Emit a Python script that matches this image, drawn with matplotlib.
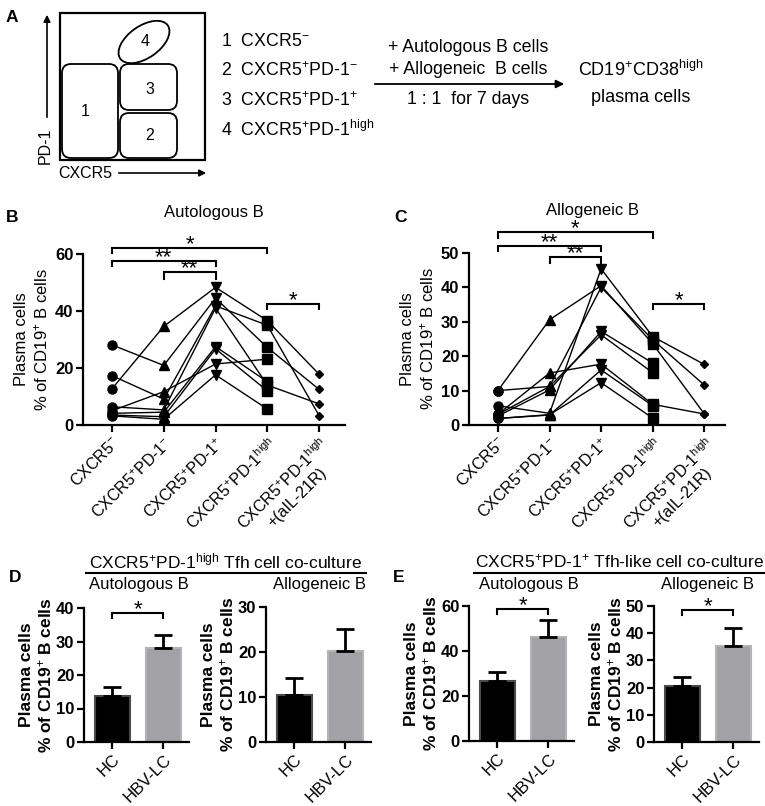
import numpy as np
import matplotlib
matplotlib.use('Agg')
import matplotlib.pyplot as plt
from matplotlib.patches import FancyBboxPatch, Ellipse, Rectangle

plt.rcParams['font.family'] = ['Liberation Sans', 'DejaVu Sans']
plt.rcParams['mathtext.fontset'] = 'custom'
plt.rcParams['mathtext.rm'] = 'Liberation Sans'
plt.rcParams['mathtext.it'] = 'Liberation Sans:italic'
plt.rcParams['mathtext.bf'] = 'Liberation Sans:bold'

W, H = 765, 806

# ---- data ----
groups = [r'CXCR5$^{-}$',
          r'CXCR5$^{+}$PD-1$^{-}$',
          r'CXCR5$^{+}$PD-1$^{+}$',
          r'CXCR5$^{+}$PD-1$^{\mathrm{high}}$',
          'CXCR5$^{+}$PD-1$^{\\mathrm{high}}$\n+(aIL-21R)']
group_markers = ['o', '^', 'v', 's', 'D']

nan = np.nan
# one row per donor, one column per group (% plasma cells of CD19+ B cells)
auto_b = np.array([
    [12.7, 34.6, 48.3, 36.6, 17.8],
    [28.1, 20.9, 44.5, 27.2, 12.5],
    [17.3, 9.1, 41.8, 35.0, 3.3],
    [5.0, 11.7, 21.4, 23.1, nan],
    [6.4, 5.3, 41.0, 14.0, 7.4],
    [4.1, 4.5, 27.5, 15.2, nan],
    [3.5, 2.9, 26.7, 12.0, nan],
    [3.2, 2.0, 17.6, 5.6, nan],
])
allo_b = np.array([
    [10.0, 30.6, 40.5, 23.6, 3.2],
    [10.0, 11.2, 26.2, 15.2, nan],
    [5.6, 3.4, 45.4, 25.7, 17.6],
    [3.1, 15.1, 17.7, 6.0, 3.2],
    [3.1, 11.2, 40.0, 24.8, 11.6],
    [2.6, 10.2, 27.2, 18.0, nan],
    [1.9, 2.9, 16.0, 5.6, nan],
    [1.9, 3.0, 12.3, 2.0, nan],
])
# brackets: (from group, to group, bar level, tick bottom, label)
auto_sig = [(0, 3, 62.1, 60.4, '*'), (0, 2, 57.5, 55.8, '**'),
            (1, 2, 53.7, 51.2, '**'), (3, 4, 42.5, 40.7, '*')]
allo_sig = [(0, 3, 56.1, 54.4, '*'), (0, 2, 52.0, 50.6, '**'),
            (1, 2, 48.8, 47.1, '**'), (3, 4, 35.2, 33.7, '*')]

bar_groups = ['HC', 'HBV-LC']
d_auto_mean = [13.7, 28.1]
d_auto_sem = [2.7, 3.8]
d_allo_mean = [10.4, 20.2]
d_allo_sem = [3.8, 4.9]
e_auto_mean = [26.7, 46.2]
e_auto_sem = [4.0, 7.6]
e_allo_mean = [20.6, 35.3]
e_allo_sem = [3.3, 6.6]


def rect(l, t, r, b):
    return [l / W, 1 - b / H, (r - l) / W, (b - t) / H]


def style_axes(ax, ymax, step):
    for s in ['top', 'right']:
        ax.spines[s].set_visible(False)
    for s in ['left', 'bottom']:
        ax.spines[s].set_linewidth(1.6)
    ax.spines['left'].set_bounds(0, ymax)
    ax.set_ylim(0, ymax)
    ax.set_yticks(np.arange(0, ymax + 0.1, step))
    ax.tick_params(axis='both', direction='out', length=5, width=1.6, pad=2)
    for lab in ax.get_yticklabels():
        lab.set_fontweight('bold')
        lab.set_fontsize(12)


def bracket(ax, x1, x2, y, ybot, label, fs=16):
    ax.plot([x1, x1, x2, x2], [ybot, y, y, ybot], color='k', lw=1.5,
            clip_on=False, solid_joinstyle='miter')
    ax.annotate(label, xy=((x1 + x2) / 2, y), xytext=(0, -5),
                textcoords='offset points', ha='center', va='bottom',
                fontsize=fs, annotation_clip=False)


fig = plt.figure(figsize=(W / 100, H / 100), dpi=100)

# ---- overlay for panel A, letters and headers ----
ax0 = fig.add_axes([0, 0, 1, 1])
ax0.set_xlim(0, W)
ax0.set_ylim(H, 0)
ax0.axis('off')

ax0.add_patch(Rectangle((60, 13), 145, 147, fill=False, lw=1.6, ec='k'))
for (x, y, w, h) in [(62, 64, 56, 94), (120, 64, 57, 46), (120, 113, 57, 45)]:
    ax0.add_patch(FancyBboxPatch((x, y), w, h, boxstyle='round,pad=0,rounding_size=9',
                                 fill=False, lw=1.3, ec='k'))
ax0.add_patch(Ellipse((144, 42), 58, 32, angle=-35, fill=False, lw=1.3, ec='k'))
for t, x, y in [('1', 85, 112), ('3', 150, 89), ('2', 150, 136), ('4', 145, 41)]:
    ax0.text(x, y, t, ha='center', va='center', fontsize=11.5)

ax0.annotate('', xy=(47, 12), xytext=(47, 120),
             arrowprops=dict(arrowstyle='-|>', lw=1.2, color='k', mutation_scale=10))
ax0.text(45, 146, 'PD-1', rotation=90, ha='center', va='center', fontsize=11.5)
ax0.annotate('', xy=(209, 173), xytext=(116, 173),
             arrowprops=dict(arrowstyle='-|>', lw=1.2, color='k', mutation_scale=10))
ax0.text(85, 173, 'CXCR5', ha='center', va='center', fontsize=11.5)

gate_list = [r'1  CXCR5$^{-}$', r'2  CXCR5$^{+}$PD-1$^{-}$',
             r'3  CXCR5$^{+}$PD-1$^{+}$', r'4  CXCR5$^{+}$PD-1$^{\mathrm{high}}$']
for t, y in zip(gate_list, [42, 71, 101, 130]):
    ax0.text(221, y, t, ha='left', va='center', fontsize=12.8)

ax0.annotate('', xy=(567, 84), xytext=(372, 84),
             arrowprops=dict(arrowstyle='-|>', lw=1.3, color='k', mutation_scale=12))
ax0.text(468, 47, '+ Autologous B cells', ha='center', va='center', fontsize=12.8)
ax0.text(468, 69, '+ Allogeneic  B cells', ha='center', va='center', fontsize=12.8)
ax0.text(468, 99, '1 : 1  for 7 days', ha='center', va='center', fontsize=12.8)
ax0.text(641, 70, r'CD19$^{+}$CD38$^{\mathrm{high}}$', ha='center', va='center', fontsize=13)
ax0.text(641, 97, 'plasma cells', ha='center', va='center', fontsize=13)

for t, x, y in [('A', 12, 17), ('B', 12, 217), ('C', 401, 217), ('D', 15, 577), ('E', 399, 577)]:
    ax0.text(x, y, t, ha='center', va='center', fontsize=12.5, fontweight='bold')

ax0.text(214, 212, 'Autologous B', ha='center', va='center', fontsize=12)
ax0.text(593, 210, 'Allogeneic B', ha='center', va='center', fontsize=12)

# headers of D and E
ax0.text(225, 561, r'CXCR5$^{+}$PD-1$^{\mathrm{high}}$ Tfh cell co-culture',
         ha='center', va='center', fontsize=12.5)
ax0.plot([86, 366], [573, 573], color='k', lw=1.5)
ax0.text(89, 585, 'Autologous B', ha='left', va='center', fontsize=12)
ax0.text(366, 585, 'Allogeneic B', ha='right', va='center', fontsize=12)

ax0.text(619, 561, r'CXCR5$^{+}$PD-1$^{+}$ Tfh-like cell co-culture',
         ha='center', va='center', fontsize=12.5)
ax0.plot([474, 764], [573, 573], color='k', lw=1.5)
ax0.text(479, 585, 'Autologous B', ha='left', va='center', fontsize=12)
ax0.text(754, 585, 'Allogeneic B', ha='right', va='center', fontsize=12)

# ---- panels B and C ----
ylab = 'Plasma cells\n% of CD19$^{+}$ B cells'
for data, sig, box, ymax, step, xmax in [
        (auto_b, auto_sig, (83, 254, 345, 425), 60, 20, 4.5),
        (allo_b, allo_sig, (469, 253, 725, 425), 50, 10, 4.4)]:
    ax = fig.add_axes(rect(*box))
    xs = np.arange(len(groups))
    for row in data:
        ok = ~np.isnan(row)
        ax.plot(xs[ok], row[ok], color='k', lw=1.0, zorder=2)
    for j, m in enumerate(group_markers):
        col = data[:, j]
        col = col[~np.isnan(col)]
        ms = 6.5 if m != 'D' else 4.5
        ax.plot(np.full(len(col), j), col, ls='none', marker=m, ms=ms,
                color='k', zorder=3, clip_on=False)
    style_axes(ax, ymax, step)
    ax.set_xlim(-0.56, xmax)
    ax.set_xticks(xs)
    ax.set_xticklabels(groups, rotation=45, ha='right', rotation_mode='anchor',
                       fontsize=11.5, multialignment='center')
    ax.set_ylabel(ylab, fontsize=12, labelpad=3, linespacing=1.25)
    for x1, x2, y, yb, lab in sig:
        bracket(ax, x1, x2, y, yb, lab)

# ---- panels D and E ----
bar_colors = ['black', '#a2a2a6']
bar_edges = ['#4a4a4a', '#b4b4b6']
bar_panels = [
    (d_auto_mean, d_auto_sem, (84, 608, 189, 742), 40, 10, (38.5, 37.0)),
    (d_allo_mean, d_allo_sem, (266, 607, 371, 742), 30, 10, None),
    (e_auto_mean, e_auto_sem, (469, 606, 574, 741), 60, 20, (58.7, 56.4)),
    (e_allo_mean, e_allo_sem, (654, 606, 759, 742), 50, 10, (48.5, 46.7)),
]
for mean, sem, box, ymax, step, sig in bar_panels:
    ax = fig.add_axes(rect(*box))
    xs = np.arange(len(bar_groups))
    ax.bar(xs, mean, width=0.68, color=bar_colors, edgecolor=bar_edges,
           linewidth=1.5, zorder=2)
    ax.errorbar(xs, mean, yerr=[np.zeros(len(sem)), sem], fmt='none',
                ecolor='k', elinewidth=2, capsize=6.5, capthick=2, zorder=3)
    style_axes(ax, ymax, step)
    ax.set_xlim(-0.55, 1.5)
    ax.set_xticks(xs)
    ax.set_xticklabels(bar_groups, rotation=45, ha='right', rotation_mode='anchor',
                       fontsize=12)
    ax.set_ylabel(ylab, fontsize=12.5, fontweight='bold', labelpad=1, linespacing=1.2)
    if sig is not None:
        bracket(ax, 0, 1, sig[0], sig[1], '*')

fig.savefig('out.png', dpi=100)
